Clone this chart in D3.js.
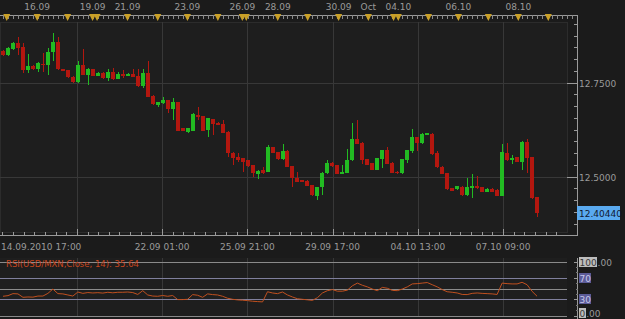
<!DOCTYPE html>
<html><head><meta charset="utf-8">
<script src="https://cdn.jsdelivr.net/npm/d3@7"></script>
<style>html,body{margin:0;padding:0;background:#1b1b1b;}svg{display:block;}</style>
</head><body>
<script>
// ---------- data ----------
const opens = [12.835,12.824,12.840,12.855,12.844,12.784,12.794,12.786,12.800,12.797,
12.831,12.859,12.786,12.784,12.766,12.751,12.797,12.771,12.786,12.769,
12.777,12.762,12.779,12.760,12.772,12.769,12.774,12.769,12.741,12.777,
12.715,12.691,12.695,12.704,12.679,12.699,12.629,12.620,12.622,12.664,
12.661,12.624,12.653,12.644,12.640,12.620,12.564,12.552,12.549,12.544,
12.531,12.507,12.518,12.513,12.578,12.566,12.546,12.569,12.528,12.497,
12.491,12.489,12.478,12.449,12.472,12.509,12.537,12.530,12.507,12.511,
12.544,12.599,12.590,12.546,12.536,12.518,12.546,12.571,12.537,12.513,
12.509,12.544,12.569,12.605,12.589,12.611,12.614,12.562,12.527,12.509,
12.469,12.466,12.473,12.451,12.469,12.475,12.472,12.460,12.468,12.465,
12.449,12.564,12.544,12.552,12.540,12.593,12.552,12.445];
const highs = [12.838,12.846,12.857,12.871,12.856,12.826,12.796,12.806,12.830,12.842,
12.881,12.871,12.787,12.785,12.767,12.809,12.839,12.788,12.787,12.778,
12.778,12.786,12.788,12.779,12.784,12.775,12.786,12.786,12.786,12.809,
12.716,12.700,12.711,12.705,12.709,12.700,12.630,12.630,12.669,12.686,
12.662,12.656,12.654,12.645,12.651,12.621,12.565,12.562,12.550,12.545,
12.532,12.517,12.527,12.584,12.579,12.567,12.587,12.570,12.529,12.513,
12.492,12.490,12.479,12.473,12.512,12.544,12.538,12.531,12.531,12.573,
12.644,12.651,12.591,12.547,12.537,12.550,12.572,12.580,12.538,12.514,
12.547,12.572,12.626,12.606,12.617,12.616,12.615,12.569,12.528,12.510,
12.470,12.476,12.474,12.496,12.507,12.502,12.473,12.469,12.469,12.466,
12.587,12.589,12.558,12.553,12.594,12.599,12.553,12.446];
const lows = [12.821,12.822,12.838,12.824,12.775,12.777,12.784,12.779,12.779,12.771,
12.809,12.784,12.781,12.763,12.749,12.750,12.770,12.744,12.767,12.768,
12.761,12.755,12.758,12.759,12.762,12.768,12.765,12.739,12.735,12.712,
12.692,12.686,12.694,12.670,12.651,12.621,12.621,12.615,12.621,12.651,
12.621,12.605,12.611,12.637,12.616,12.552,12.531,12.540,12.513,12.527,
12.500,12.493,12.508,12.512,12.563,12.545,12.545,12.526,12.472,12.486,
12.486,12.474,12.450,12.438,12.451,12.508,12.527,12.506,12.506,12.510,
12.543,12.586,12.534,12.530,12.517,12.517,12.522,12.533,12.510,12.508,
12.508,12.536,12.562,12.569,12.588,12.610,12.559,12.524,12.506,12.465,
12.462,12.465,12.450,12.450,12.443,12.468,12.459,12.459,12.459,12.448,
12.448,12.543,12.534,12.539,12.518,12.509,12.442,12.392];
const closes = [12.824,12.842,12.855,12.843,12.784,12.794,12.786,12.802,12.796,12.832,
12.859,12.786,12.782,12.764,12.751,12.797,12.771,12.786,12.768,12.777,
12.762,12.779,12.759,12.773,12.769,12.774,12.766,12.741,12.777,12.713,
12.693,12.699,12.704,12.679,12.699,12.622,12.622,12.629,12.667,12.658,
12.622,12.655,12.640,12.638,12.617,12.562,12.549,12.544,12.540,12.528,
12.509,12.516,12.509,12.578,12.564,12.546,12.569,12.527,12.496,12.487,
12.487,12.475,12.451,12.472,12.511,12.537,12.528,12.507,12.513,12.544,
12.599,12.587,12.544,12.531,12.518,12.549,12.571,12.534,12.511,12.509,
12.546,12.571,12.606,12.589,12.614,12.615,12.560,12.525,12.507,12.466,
12.463,12.475,12.451,12.472,12.475,12.469,12.460,12.468,12.460,12.449,
12.566,12.544,12.549,12.540,12.593,12.549,12.443,12.4044];
const rsi = [35.6,36.8,40.5,40,33.7,34.3,34,36,36,41,
49,40.5,40,38,36,43.5,41,42.5,41.7,42.3,
41.5,43,42,43,43,43.5,42.5,39,46,38,
36,35.6,37,35.6,37,29.5,29.5,30,38.7,37.5,
33.7,40,38.7,38,35.6,32,30,28.9,28.3,27.6,
26.4,25.8,25.2,44,41.7,40.5,43.5,38,34.3,31,
30,29,28,33,41.7,46,48,45,45,47,
55,60,56,53,49,46,52,50.5,46.5,46,
49,53,58.5,59,60,61,57,53,48,44,
43,41.7,39,38.7,41,41.7,41,40.5,40,39,
60,59,58.5,58.5,61.5,57,44.8,35.64];
const lastPrice = 12.40440;
const priceTicks = [12.75, 12.5];
const priceLabels = ["12.7500", "12.5000"];
const minorStep = 0.03125;
// top ruler: day marks (in bar-index units) and their labels
const dayMarks = [0.75,6.85,12.95,17.95,18.85,24.95,31,36.95,43.05,47.95,48.75,55.05,61.05,67.25,73.2,78.25,79.2,85.25,91.25,97.25,103.25,109.25];
const dayLabels = ["16.09","19.09","21.09","23.09","26.09","28.09","30.09","Oct","04.10","06.10","08.10"];
const dayLabelPos = [6.85,17.95,24.95,36.95,47.95,55.05,67.25,73.2,79.2,91.25,103.25];
// bottom time axis
const gridPos = [14.8,31.88,48.96,66.04,83.12,100.2];
const timeLabels = ["14.09.2010 17:00","22.09 01:00","25.09 21:00","29.09 17:00","04.10 13:00","07.10 09:00"];
const rsiTitle = "RSI(USD/MXN,Close, 14): 35.64";
const rsiLevels = [100, 70, 50, 30, 0];

// ---------- drawing ----------
const W = 625, H = 319;
const plotL = 0, plotR = 567, plotT = 22, plotB = 232;
const axisX = 577.5;
const rsiT = 258, rsiB = 317;
const font = "DejaVu Sans";
const GREEN = "#22bb22", RED = "#b3170f", GOLD = "#c9a028", AXC = "#9a9a9a", GRID = "#383838";

const svg = d3.select("body").append("svg").attr("width", W).attr("height", H)
  .attr("shape-rendering", "crispEdges");
svg.append("rect").attr("width", W).attr("height", H).attr("fill", "#1b1b1b");

const x = d3.scaleLinear().domain([-0.6, 113]).range([plotL, plotR]);
const y = d3.scaleLinear().domain([12.5, 12.75]).range([176.7, 82.7]);
const ry = d3.scaleLinear().domain([0, 100]).range([315.5, 261.5]);

// plot backgrounds
svg.append("rect").attr("x", plotL).attr("y", plotT).attr("width", plotR - plotL).attr("height", plotB - plotT)
  .attr("fill", "#1e1e1e").attr("stroke", "#2c2c2c");
svg.append("rect").attr("x", plotL).attr("y", rsiT).attr("width", plotR - plotL).attr("height", rsiB - rsiT)
  .attr("fill", "#1e1e1e");

// vertical grid
gridPos.forEach(g => {
  const gx = Math.round(x(g)) + 0.5;
  svg.append("line").attr("x1", gx).attr("x2", gx).attr("y1", plotT).attr("y2", plotB).attr("stroke", GRID);
  svg.append("line").attr("x1", gx).attr("x2", gx).attr("y1", rsiT).attr("y2", rsiB).attr("stroke", GRID);
});
// horizontal grid
priceTicks.forEach(p => {
  const gy = Math.round(y(p)) + 0.5;
  svg.append("line").attr("x1", plotL).attr("x2", plotR).attr("y1", gy).attr("y2", gy).attr("stroke", GRID);
});

// candles
const idx = d3.range(opens.length);
const cg = svg.append("g");
cg.selectAll("rect.wick").data(idx).join("rect")
  .attr("x", i => Math.round(x(i))).attr("width", 1)
  .attr("y", i => y(highs[i])).attr("height", i => Math.max(1, y(lows[i]) - y(highs[i])))
  .attr("fill", i => closes[i] >= opens[i] ? GREEN : RED);
cg.selectAll("rect.body").data(idx).join("rect")
  .attr("x", i => Math.round(x(i)) - 2).attr("width", 4)
  .attr("y", i => y(Math.max(opens[i], closes[i])))
  .attr("height", i => Math.max(1.5, Math.abs(y(opens[i]) - y(closes[i]))))
  .attr("fill", i => closes[i] >= opens[i] ? GREEN : RED);

// top ruler
svg.append("line").attr("x1", 0).attr("x2", axisX).attr("y1", 15.5).attr("y2", 15.5).attr("stroke", AXC);
d3.range(0, 115).forEach(i => {
  const tx = Math.round(x(i)) + 0.5;
  svg.append("line").attr("x1", tx).attr("x2", tx).attr("y1", 15).attr("y2", 18.5).attr("stroke", "#8a8a8a");
});
svg.selectAll("path.tri").data(dayMarks).join("path")
  .attr("shape-rendering", "auto")
  .attr("d", d => { const cx = x(d); return `M${cx - 3.5},14 L${cx + 3.5},14 L${cx},21 Z`; })
  .attr("fill", GOLD);
svg.selectAll("text.day").data(dayLabels).join("text")
  .attr("x", (d, i) => x(dayLabelPos[i])).attr("y", 10)
  .attr("text-anchor", "middle").attr("font-family", font).attr("font-size", 9)
  .attr("fill", AXC).text(d => d);

// right axis
svg.append("line").attr("x1", axisX).attr("x2", axisX).attr("y1", 15).attr("y2", 236).attr("stroke", AXC);
d3.range(-12, 6).forEach(k => {
  const p = 12.75 + k * minorStep;
  const ty = Math.round(y(p)) + 0.5;
  svg.append("line").attr("x1", axisX - 4).attr("x2", axisX).attr("y1", ty).attr("y2", ty).attr("stroke", AXC);
});
priceTicks.forEach((p, i) => {
  const ty = Math.round(y(p)) + 0.5;
  svg.append("line").attr("x1", plotR).attr("x2", axisX).attr("y1", ty).attr("y2", ty).attr("stroke", AXC);
  svg.append("text").attr("x", 579).attr("y", ty + 3.5).attr("font-family", font).attr("font-size", 9)
    .attr("fill", AXC).text(priceLabels[i]);
});
// last price box
const lpY = y(lastPrice);
svg.append("rect").attr("x", 577).attr("y", Math.round(lpY) - 7).attr("width", 43).attr("height", 14).attr("fill", "#5aaaf0");
svg.append("text").attr("x", 579).attr("y", Math.round(lpY) + 3.5).attr("font-family", font).attr("font-size", 9)
  .attr("fill", "#101830").text(lastPrice.toFixed(5));

// bottom axis
svg.append("line").attr("x1", 0).attr("x2", axisX).attr("y1", 235.5).attr("y2", 235.5).attr("stroke", AXC);
const minorBottom = d3.range(-7, 48).map(k => gridPos[0] + k * (gridPos[1] - gridPos[0]) / 8).filter(v => x(v) >= 0 && x(v) <= plotR);
minorBottom.forEach(v => {
  const tx = Math.round(x(v)) + 0.5;
  svg.append("line").attr("x1", tx).attr("x2", tx).attr("y1", 232).attr("y2", 235).attr("stroke", AXC);
});
gridPos.forEach(g => {
  const tx = Math.round(x(g)) + 0.5;
  svg.append("line").attr("x1", tx).attr("x2", tx).attr("y1", 229).attr("y2", 235).attr("stroke", AXC);
});
timeLabels.forEach((t, i) => {
  const tx = i === 0 ? 1 : x(gridPos[i]);
  svg.append("text").attr("x", tx).attr("y", 250).attr("text-anchor", i === 0 ? "start" : "middle")
    .attr("font-family", font).attr("font-size", 9).attr("fill", AXC).text(t);
});

// RSI panel
const levelColor = {100: "#8a8a8a", 70: "#7f7f9c", 50: "#8a8a8a", 30: "#7f7f9c", 0: "#8a8a8a"};
rsiLevels.forEach(l => {
  const ly = Math.round(ry(l)) + 0.5;
  svg.append("line").attr("x1", plotL).attr("x2", plotR).attr("y1", ly).attr("y2", ly).attr("stroke", levelColor[l]);
});
svg.append("path").datum(rsi)
  .attr("shape-rendering", "auto")
  .attr("d", d3.line().x((d, i) => x(i)).y(d => ry(d)))
  .attr("fill", "none").attr("stroke", "#c0501e").attr("stroke-width", 1);
svg.append("text").attr("x", 6).attr("y", 267).attr("font-family", font).attr("font-size", 8.5)
  .attr("fill", "#c8471e").text(rsiTitle);

// RSI right axis
svg.append("line").attr("x1", axisX).attr("x2", axisX).attr("y1", 258).attr("y2", 319).attr("stroke", AXC);
[100, 70, 30, 0].forEach(l => {
  const ly = Math.round(ry(l)) + 0.5;
  svg.append("line").attr("x1", axisX - 4).attr("x2", axisX).attr("y1", ly).attr("y2", ly).attr("stroke", AXC);
});
[90, 80, 60, 50, 40, 20, 10].forEach(l => {
  const ly = Math.round(ry(l)) + 0.5;
  svg.append("line").attr("x1", axisX - 2).attr("x2", axisX).attr("y1", ly).attr("y2", ly).attr("stroke", "#777");
});
function boxLabel(l, main, rest, bg, fg, dy) {
  const ly = Math.round(ry(l)) + (dy || 0);
  const w = main.length * 5.7 + 1;
  svg.append("rect").attr("x", 579).attr("y", ly - 5).attr("width", w).attr("height", 10).attr("fill", bg);
  svg.append("text").attr("x", 579.5).attr("y", ly + 3.5).attr("font-family", font).attr("font-size", 9)
    .attr("fill", fg).text(main);
  if (rest) svg.append("text").attr("x", 579.5 + w).attr("y", ly + 3.5).attr("font-family", font)
    .attr("font-size", 9).attr("fill", AXC).text(rest);
}
boxLabel(100, "100", ".00", "#bdbdbd", "#3a3a3a");
boxLabel(70, "70", null, "#5c5c98", "#c8c8e8");
boxLabel(30, "30", null, "#5c5c98", "#c8c8e8");
boxLabel(0, "0", ".00", "#bdbdbd", "#3a3a3a", -3);
</script>
</body></html>
